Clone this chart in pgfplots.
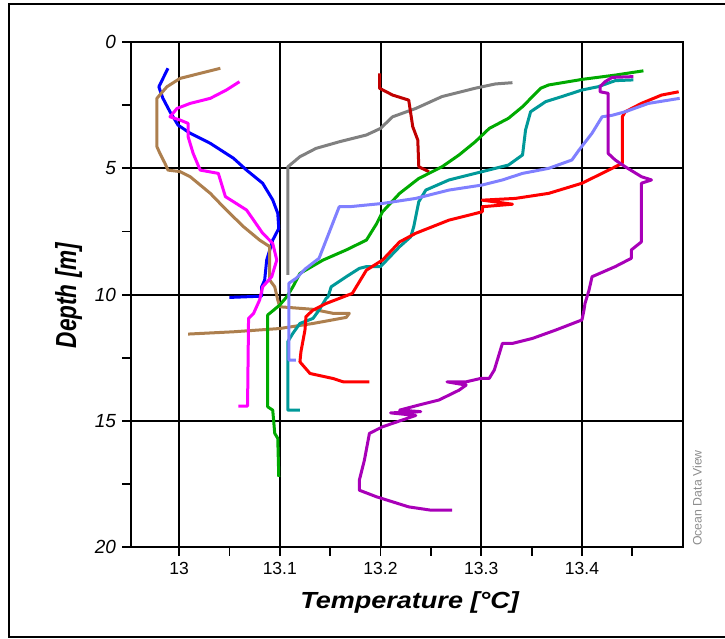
\documentclass[border=0pt]{standalone}
\usepackage{pgfplots}
\pgfplotsset{compat=1.18}
\usepackage{fontspec}
\usepackage{graphicx}
\setmainfont{Liberation Sans}
\definecolor{cblue}{HTML}{0000FF}
\definecolor{cbrown}{HTML}{AD7F4E}
\definecolor{cmag}{HTML}{FF00FF}
\definecolor{cgrey}{HTML}{808080}
\definecolor{cdred}{HTML}{C00000}
\definecolor{cgreen}{HTML}{00AA00}
\definecolor{cteal}{HTML}{009999}
\definecolor{cred}{HTML}{FF0000}
\definecolor{clblue}{HTML}{8080FF}
\definecolor{cpurp}{HTML}{A800B8}
\begin{document}
\begin{tikzpicture}
\begin{axis}[
  at={(130.7pt,90.7pt)}, anchor=south west,
  width=552pt, height=505.3pt, scale only axis,
  xmin=12.952, xmax=13.5, ymin=0, ymax=20, y dir=reverse,
  xtick={13,13.1,13.2,13.3,13.4},
  xticklabels={13,13.1,13.2,13.3,13.4},
  minor xtick={13.05,13.15,13.25,13.35,13.45},
  ytick={0,5,10,15,20},
  minor ytick={2.5,7.5,12.5,17.5},
  tick align=outside, major tick length=8.5pt, minor tick length=8.5pt,
  xtick pos=bottom, ytick pos=left,
  grid=major, major grid style={black, line width=2pt},
  axis line style={line width=2.2pt},
  every tick/.style={black, line width=1.8pt},
  minor tick style={black, line width=1.8pt},
  /pgf/number format/assume math mode=true,
  xticklabel style={font=\fontsize{17.5}{18}\selectfont, anchor=north, inner sep=0pt, yshift=-6pt},
  yticklabel style={font=\fontsize{19}{19}\selectfont\itshape, anchor=east, inner sep=0pt, xshift=-6pt},
  every axis plot/.style={line width=3pt, line join=round, no marks},
]
% blue
\addplot[cblue] coordinates {(12.989,1.04) (12.980,1.77) (12.981,1.9) (12.984,2.23) (12.991,2.76) (12.999,3.29) (13.011,3.61) (13.031,4.01) (13.054,4.60) (13.067,5.07) (13.083,5.59) (13.093,6.25) (13.098,6.78) (13.099,7.38) (13.093,7.84) (13.087,8.63) (13.085,9.42) (13.082,9.69) (13.082,10.06) (13.050,10.11)};
% brown
\addplot[cbrown] coordinates {(13.041,1.04) (13.021,1.24) (13.001,1.44) (12.988,1.77) (12.978,2.23) (12.978,4.14) (12.981,4.41) (12.986,4.80) (12.989,5.07) (13.001,5.13) (13.011,5.33) (13.031,5.99) (13.047,6.65) (13.064,7.31) (13.080,7.84) (13.090,8.1) (13.090,9.42) (13.095,9.69) (13.098,10.21) (13.100,10.48) (13.133,10.58) (13.153,10.74) (13.169,10.74) (13.166,10.9) (13.133,11.14) (13.100,11.34) (13.054,11.47) (13.009,11.56)};
% magenta
\addplot[cmag] coordinates {(13.060,1.57) (13.047,1.90) (13.031,2.23) (13.011,2.43) (12.998,2.63) (12.991,2.96) (13.001,3.09) (13.009,3.22) (13.009,3.75) (13.014,4.41) (13.021,5.07) (13.039,5.20) (13.046,6.12) (13.054,6.32) (13.067,6.65) (13.074,7.05) (13.083,7.57) (13.093,7.97) (13.097,8.63) (13.092,9.29) (13.083,9.69) (13.080,10.21) (13.074,10.74) (13.069,10.94) (13.068,14.41) (13.059,14.41)};
% grey
\addplot[cgrey] coordinates {(13.331,1.61) (13.314,1.66) (13.294,1.83) (13.261,2.16) (13.235,2.63) (13.212,2.96) (13.200,3.42) (13.186,3.68) (13.159,3.95) (13.136,4.21) (13.120,4.54) (13.108,4.94) (13.108,9.22)};
% dark red
\addplot[cdred] coordinates {(13.199,1.24) (13.199,1.83) (13.212,2.10) (13.228,2.30) (13.232,3.35) (13.237,3.88) (13.238,4.94) (13.248,5.13)};
% green
\addplot[cgreen] coordinates {(13.461,1.14) (13.433,1.31) (13.400,1.48) (13.367,1.70) (13.359,1.83) (13.341,2.56) (13.327,3.02) (13.308,3.42) (13.294,3.95) (13.278,4.47) (13.261,4.94) (13.238,5.40) (13.219,5.99) (13.202,6.72) (13.196,7.2) (13.186,7.84) (13.166,8.23) (13.143,8.63) (13.120,9.16) (13.113,9.69) (13.107,10.08) (13.100,10.41) (13.090,10.74) (13.088,10.80) (13.088,14.44) (13.093,14.57) (13.095,15.49) (13.098,15.69) (13.099,17.21)};
% teal
\addplot[cteal] coordinates {(13.451,1.50) (13.433,1.53) (13.416,1.77) (13.400,1.90) (13.380,2.16) (13.364,2.36) (13.349,2.76) (13.344,3.48) (13.341,4.47) (13.327,4.87) (13.301,5.13) (13.268,5.46) (13.245,5.86) (13.238,6.32) (13.233,7.31) (13.230,7.71) (13.219,8.10) (13.200,8.89) (13.186,8.89) (13.179,8.96) (13.166,9.29) (13.151,9.69) (13.148,10.08) (13.146,10.15) (13.139,10.61) (13.133,10.94) (13.120,11.14) (13.113,11.53) (13.108,11.86) (13.108,14.57) (13.120,14.57)};
% red
\addplot[cred] coordinates {(13.496,1.97) (13.479,2.10) (13.459,2.43) (13.443,2.76) (13.440,2.96) (13.440,4.80) (13.430,5.00) (13.400,5.59) (13.367,5.99) (13.334,6.19) (13.301,6.26) (13.331,6.42) (13.301,6.52) (13.301,6.72) (13.268,7.05) (13.235,7.57) (13.219,7.91) (13.202,8.63) (13.186,9.03) (13.172,9.95) (13.146,10.35) (13.133,10.61) (13.126,10.87) (13.125,11.40) (13.121,12.26) (13.120,12.66) (13.130,13.12) (13.153,13.32) (13.163,13.45) (13.189,13.45)};
% light blue
\addplot[clblue] coordinates {(13.497,2.23) (13.466,2.43) (13.443,2.76) (13.430,2.90) (13.420,2.96) (13.410,3.61) (13.397,4.28) (13.390,4.67) (13.367,5.00) (13.341,5.20) (13.321,5.46) (13.301,5.66) (13.268,5.86) (13.235,6.19) (13.202,6.39) (13.169,6.52) (13.159,6.52) (13.139,8.56) (13.126,8.96) (13.116,9.36) (13.109,9.55) (13.109,12.59) (13.116,12.59)};
% purple
\addplot[cpurp] coordinates {(13.451,1.37) (13.430,1.40) (13.423,1.57) (13.418,1.77) (13.418,1.97) (13.426,2.03) (13.426,4.41) (13.433,4.67) (13.443,4.94) (13.459,5.33) (13.469,5.46) (13.459,5.59) (13.459,7.91) (13.449,8.23) (13.449,8.56) (13.433,8.89) (13.410,9.29) (13.407,9.82) (13.403,10.35) (13.402,10.61) (13.400,11.0) (13.374,11.40) (13.351,11.73) (13.331,11.93) (13.321,11.93) (13.313,12.98) (13.308,13.31) (13.300,13.31) (13.285,13.45) (13.266,13.45) (13.285,13.58) (13.278,13.78) (13.258,14.17) (13.238,14.37) (13.219,14.57) (13.240,14.63) (13.210,14.68) (13.235,14.78) (13.202,15.23) (13.189,15.49) (13.184,16.55) (13.179,17.34) (13.179,17.74) (13.196,18.00) (13.228,18.40) (13.250,18.53) (13.271,18.53)};
\end{axis}
\node[anchor=base, inner sep=0pt] at (409.6pt,30pt) {\scalebox{1.16}[1]{\fontsize{23.3}{24}\selectfont\bfseries\itshape Temperature [°C]}};
\node[anchor=base, rotate=90, inner sep=0pt] at (76pt,342.5pt) {\scalebox{0.78}[1]{\fontsize{29}{30}\selectfont\bfseries\itshape Depth [m]}};
\node[anchor=base, rotate=90, inner sep=0pt, text=black!45] at (701.7pt,140pt) {\fontsize{12.3}{13}\selectfont Ocean Data View};
\draw[line width=2pt] (727pt,634pt) -- (9pt,634pt) -- (9pt,1.5pt) -- (727pt,1.5pt);
\pgfresetboundingbox
\path[use as bounding box] (0,0) rectangle (725pt,638pt);
\end{tikzpicture}
\end{document}
